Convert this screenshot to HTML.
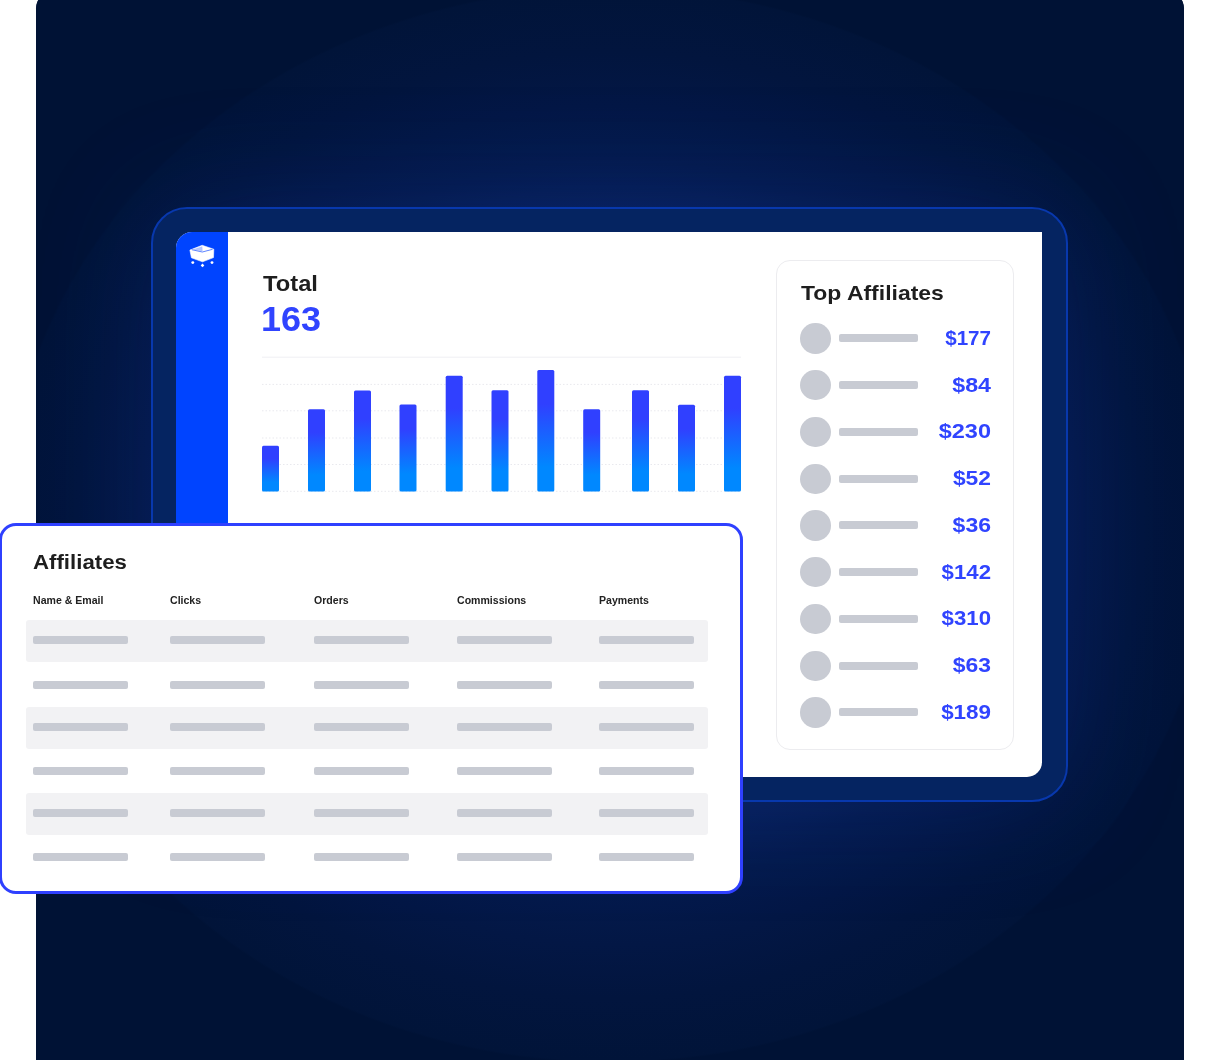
<!DOCTYPE html>
<html lang="en"><head><meta charset="utf-8"><title>Affiliates dashboard</title>
<style>
html,body{margin:0;padding:0;background:#fff;}
body{width:1212px;height:1060px;position:relative;overflow:hidden;font-family:"Liberation Sans",sans-serif;}
.abs{position:absolute;}
#bg{left:36px;top:-8px;width:1148px;height:1080px;border-radius:16.5px 16.5px 0 0;background:#001235;overflow:hidden;}
#glow{left:0;top:8px;width:1148px;height:1076px;background:radial-gradient(ellipse 605px 538px at 574px 525px,#0a2668 0%,#082260 45%,#061e56 58%,#041a4c 68%,#031745 78%,#02153e 88%,#011439 99.6%,#001235 100%);}
#frame{left:151px;top:207px;width:917px;height:594.5px;box-sizing:border-box;border:2px solid #0838ad;border-radius:36px;background:#052461;}
#fs{left:115px;top:215px;width:917px;height:594px;border-radius:36px;box-shadow:0 0 120px 0 rgba(20,60,170,0.24);}
#panel{left:176px;top:231.5px;width:866.3px;height:545px;background:#fff;border-radius:16px 0 15px 15px;overflow:hidden;}
#side{left:0;top:0;width:52px;height:545px;background:#0044ff;}
.t{white-space:nowrap;font-weight:bold;line-height:1;transform-origin:0 0;}
#card{left:776px;top:260px;width:238px;height:490px;box-sizing:border-box;border:1px solid #ececef;border-radius:14px;background:#fff;}
.dot{width:30.4px;height:30.4px;border-radius:50%;background:#c8cbd3;}
.pill{height:8px;border-radius:2px;background:#c8cbd3;}
.amt{color:#3044ff;font-size:20.2px;text-align:right;width:100px;transform-origin:100% 0;}
#aff{left:-1.5px;top:523px;width:744.5px;height:370.5px;box-sizing:border-box;border:3px solid #2f40ff;border-radius:17px;background:#fff;}
.row{left:26px;width:682px;height:42px;border-radius:3px;background:#f2f2f4;}
.h{font-size:11px;color:#222;}
</style></head><body>
<div id="bg" class="abs"><div id="glow" class="abs"></div><div id="fs" class="abs"></div></div>
<div id="frame" class="abs"></div>
<div id="panel" class="abs"><div id="side" class="abs"></div></div>
<svg class="abs" style="left:186px;top:242px" width="32" height="28" viewBox="186 242 32 28">
<path d="M189.9 250.1 L202.2 245.3 L213.8 249.2 L213.5 257.6 L202.5 261.8 L191.4 257.8 Z" fill="#fff" stroke="#fff" stroke-width="0.6" stroke-linejoin="round"/>
<path d="M192.6 249.6 L201.9 246.6 L202.2 251.2 Z" fill="#b4c6ff"/>
<path d="M191.8 249.7 L202.3 252.0 L212.6 249.3" fill="none" stroke="#3564ff" stroke-width="0.8"/>
<path d="M202 246.5 L202.3 251.5" fill="none" stroke="#9db4ff" stroke-width="0.5"/>
<circle cx="192.8" cy="262.6" r="1.45" fill="#fff"/><circle cx="212" cy="262.6" r="1.45" fill="#fff"/>
<path d="M202.5 263.6 L204.3 265.4 L202.5 267.2 L200.7 265.4 Z" fill="#fff"/>
</svg>
<div class="abs t" style="left:262.5px;top:273.3px;font-size:22.5px;color:#1e1e1e;transform:scaleX(1.055)">Total</div>
<div class="abs t" style="left:261.2px;top:301.5px;font-size:35.5px;color:#3044ff;transform:scaleX(1.015)">163</div>
<svg class="abs" style="left:240px;top:340px" width="520" height="170" viewBox="240 340 520 170">
<defs><linearGradient id="g" x1="0" y1="0" x2="0" y2="1"><stop offset="0.28" stop-color="#3040ff"/><stop offset="0.8" stop-color="#0088ff"/></linearGradient></defs>
<line x1="262" x2="741" y1="357.2" y2="357.2" stroke="#efeff3" stroke-width="1"/>
<line x1="262" x2="741" y1="384.4" y2="384.4" stroke="#e9e9ee" stroke-width="1" stroke-dasharray="1.5 2"/>
<line x1="262" x2="741" y1="410.8" y2="410.8" stroke="#e9e9ee" stroke-width="1" stroke-dasharray="1.5 2"/>
<line x1="262" x2="741" y1="438" y2="438" stroke="#e9e9ee" stroke-width="1" stroke-dasharray="1.5 2"/>
<line x1="262" x2="741" y1="464.5" y2="464.5" stroke="#e9e9ee" stroke-width="1" stroke-dasharray="1.5 2"/>
<line x1="262" x2="741" y1="491.3" y2="491.3" stroke="#e9e9ee" stroke-width="1" stroke-dasharray="1.5 2"/>
<rect x="262" y="445.8" width="17" height="45.7" rx="1.5" fill="url(#g)"/>
<rect x="308" y="409.3" width="17" height="82.2" rx="1.5" fill="url(#g)"/>
<rect x="354" y="390.4" width="17" height="101.1" rx="1.5" fill="url(#g)"/>
<rect x="399.5" y="404.4" width="17" height="87.1" rx="1.5" fill="url(#g)"/>
<rect x="445.7" y="375.8" width="17" height="115.7" rx="1.5" fill="url(#g)"/>
<rect x="491.5" y="390.3" width="17" height="101.2" rx="1.5" fill="url(#g)"/>
<rect x="537.3" y="370" width="17" height="121.5" rx="1.5" fill="url(#g)"/>
<rect x="583.2" y="409.3" width="17" height="82.2" rx="1.5" fill="url(#g)"/>
<rect x="632" y="390.3" width="17" height="101.2" rx="1.5" fill="url(#g)"/>
<rect x="678" y="404.7" width="17" height="86.8" rx="1.5" fill="url(#g)"/>
<rect x="724" y="375.8" width="17" height="115.7" rx="1.5" fill="url(#g)"/>
</svg>
<div id="card" class="abs"></div>
<div class="abs t" style="left:800.5px;top:283px;font-size:20.5px;color:#1e1e1e;transform:scaleX(1.12)">Top Affiliates</div>
<div class="abs dot" style="left:800.2px;top:323.2px"></div><div class="abs pill" style="left:839px;top:334.2px;width:79px"></div><div class="abs t amt" style="left:891px;top:327.7px;transform:scaleX(1.02)">$177</div>
<div class="abs dot" style="left:800.2px;top:370.0px"></div><div class="abs pill" style="left:839px;top:381.0px;width:79px"></div><div class="abs t amt" style="left:891px;top:374.5px;transform:scaleX(1.15)">$84</div>
<div class="abs dot" style="left:800.2px;top:416.8px"></div><div class="abs pill" style="left:839px;top:427.8px;width:79px"></div><div class="abs t amt" style="left:891px;top:421.3px;transform:scaleX(1.163)">$230</div>
<div class="abs dot" style="left:800.2px;top:463.5px"></div><div class="abs pill" style="left:839px;top:474.5px;width:79px"></div><div class="abs t amt" style="left:891px;top:468.0px;transform:scaleX(1.13)">$52</div>
<div class="abs dot" style="left:800.2px;top:510.3px"></div><div class="abs pill" style="left:839px;top:521.3px;width:79px"></div><div class="abs t amt" style="left:891px;top:514.8px;transform:scaleX(1.14)">$36</div>
<div class="abs dot" style="left:800.2px;top:557.1px"></div><div class="abs pill" style="left:839px;top:568.1px;width:79px"></div><div class="abs t amt" style="left:891px;top:561.6px;transform:scaleX(1.1)">$142</div>
<div class="abs dot" style="left:800.2px;top:603.9px"></div><div class="abs pill" style="left:839px;top:614.9px;width:79px"></div><div class="abs t amt" style="left:891px;top:608.4px;transform:scaleX(1.1)">$310</div>
<div class="abs dot" style="left:800.2px;top:650.7px"></div><div class="abs pill" style="left:839px;top:661.7px;width:79px"></div><div class="abs t amt" style="left:891px;top:655.2px;transform:scaleX(1.135)">$63</div>
<div class="abs dot" style="left:800.2px;top:697.4px"></div><div class="abs pill" style="left:839px;top:708.4px;width:79px"></div><div class="abs t amt" style="left:891px;top:701.9px;transform:scaleX(1.11)">$189</div>
<div id="aff" class="abs"></div>
<div class="abs t" style="left:33px;top:551.5px;font-size:20.7px;color:#1e1e1e;transform:scaleX(1.075)">Affiliates</div>
<div class="abs t h" style="left:33.3px;top:594.5px;transform:scaleX(0.96)">Name &amp; Email</div><div class="abs t h" style="left:169.6px;top:594.5px;transform:scaleX(0.96)">Clicks</div><div class="abs t h" style="left:314px;top:594.5px;transform:scaleX(0.96)">Orders</div><div class="abs t h" style="left:457.2px;top:594.5px;transform:scaleX(0.96)">Commissions</div><div class="abs t h" style="left:598.8px;top:594.5px;transform:scaleX(0.96)">Payments</div>
<div class="abs row" style="top:620.0px"></div><div class="abs pill" style="left:33.3px;top:636.1px;width:95px"></div><div class="abs pill" style="left:169.6px;top:636.1px;width:95px"></div><div class="abs pill" style="left:314px;top:636.1px;width:95px"></div><div class="abs pill" style="left:457.2px;top:636.1px;width:95px"></div><div class="abs pill" style="left:598.8px;top:636.1px;width:95px"></div>
<div class="abs pill" style="left:33.3px;top:680.5px;width:95px"></div><div class="abs pill" style="left:169.6px;top:680.5px;width:95px"></div><div class="abs pill" style="left:314px;top:680.5px;width:95px"></div><div class="abs pill" style="left:457.2px;top:680.5px;width:95px"></div><div class="abs pill" style="left:598.8px;top:680.5px;width:95px"></div>
<div class="abs row" style="top:706.5px"></div><div class="abs pill" style="left:33.3px;top:722.6px;width:95px"></div><div class="abs pill" style="left:169.6px;top:722.6px;width:95px"></div><div class="abs pill" style="left:314px;top:722.6px;width:95px"></div><div class="abs pill" style="left:457.2px;top:722.6px;width:95px"></div><div class="abs pill" style="left:598.8px;top:722.6px;width:95px"></div>
<div class="abs pill" style="left:33.3px;top:767.0px;width:95px"></div><div class="abs pill" style="left:169.6px;top:767.0px;width:95px"></div><div class="abs pill" style="left:314px;top:767.0px;width:95px"></div><div class="abs pill" style="left:457.2px;top:767.0px;width:95px"></div><div class="abs pill" style="left:598.8px;top:767.0px;width:95px"></div>
<div class="abs row" style="top:792.9px"></div><div class="abs pill" style="left:33.3px;top:809.0px;width:95px"></div><div class="abs pill" style="left:169.6px;top:809.0px;width:95px"></div><div class="abs pill" style="left:314px;top:809.0px;width:95px"></div><div class="abs pill" style="left:457.2px;top:809.0px;width:95px"></div><div class="abs pill" style="left:598.8px;top:809.0px;width:95px"></div>
<div class="abs pill" style="left:33.3px;top:853.0px;width:95px"></div><div class="abs pill" style="left:169.6px;top:853.0px;width:95px"></div><div class="abs pill" style="left:314px;top:853.0px;width:95px"></div><div class="abs pill" style="left:457.2px;top:853.0px;width:95px"></div><div class="abs pill" style="left:598.8px;top:853.0px;width:95px"></div>
</body></html>
